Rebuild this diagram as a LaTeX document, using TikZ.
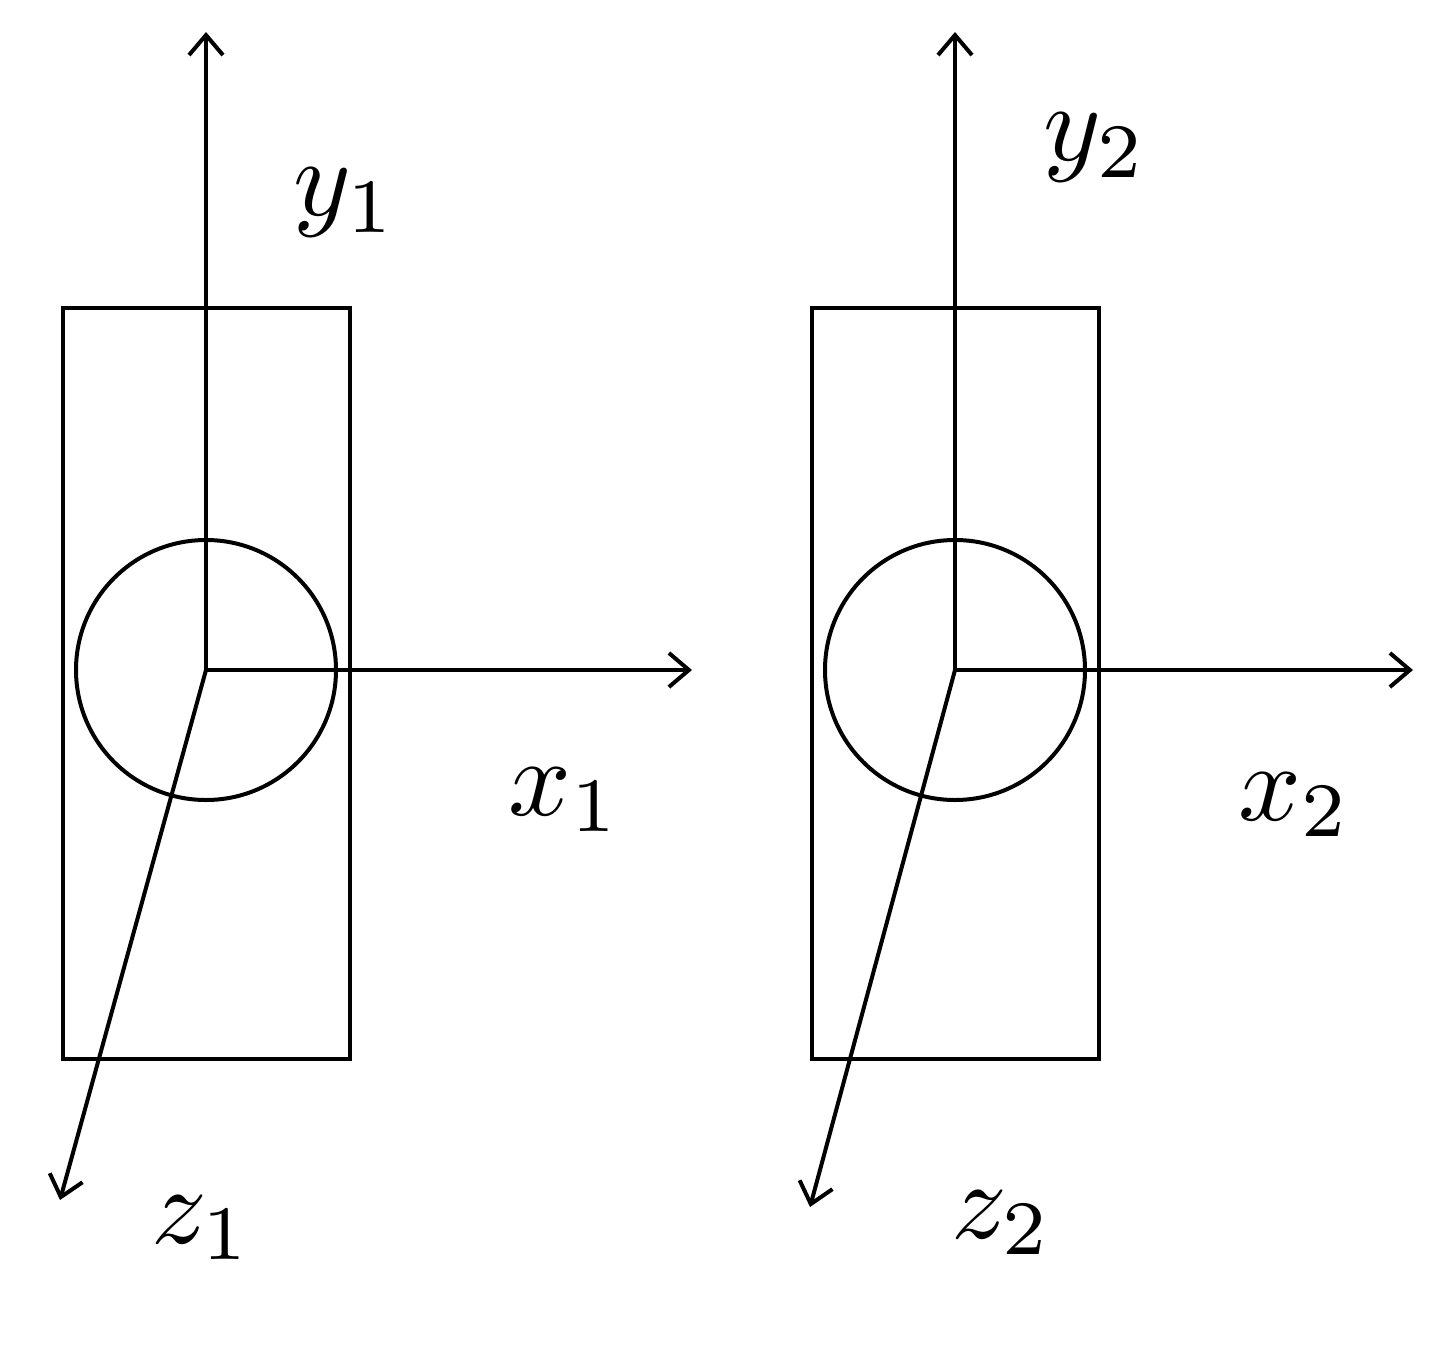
\documentclass[tikz,border=0pt]{standalone}
\usetikzlibrary{arrows.meta}
\newcommand{\axlabel}[1]{\scalebox{11}{$#1$}}
\begin{document}
\begin{tikzpicture}[x=1pt,y=-1pt,line width=4pt,
  ax/.style={-{Straight Barb[length=20pt,width=34pt,line width=4pt]}},
  lbl/.style={inner sep=0pt}]
\useasboundingbox (0,0) rectangle (1434,1348);
\foreach \n/\cx/\xe/\zx/\zy in {1/206/692/60/1200, 2/955/1413/810/1207}{
  \node[draw,line width=4pt,minimum width=287pt,minimum height=751pt,inner sep=0pt] (box\n) at (\cx,683.5) {};
  \coordinate (o\n) at (\cx,670);
  \node[draw,circle,line width=4pt,minimum size=260pt,inner sep=0pt] (c\n) at (o\n) {};
  \coordinate (ye\n) at (\cx,32);
  \coordinate (xe\n) at (\xe,670);
  \coordinate (ze\n) at (\zx,\zy);
  \draw[ax] (o\n) -- (ye\n);
  \draw[ax] (o\n) -- (xe\n);
  \draw[ax] (o\n) -- (ze\n);
}
\node[lbl] (ly1) at (345,203) {\axlabel{y_1}};
\node[lbl] (lx1) at (565,800) {\axlabel{x_1}};
\node[lbl] (lz1) at (202,1228) {\axlabel{z_1}};
\node[lbl] (ly2) at (1095,148) {\axlabel{y_2}};
\node[lbl] (lx2) at (1295,805) {\axlabel{x_2}};
\node[lbl] (lz2) at (1002,1223) {\axlabel{z_2}};
\end{tikzpicture}
\end{document}
